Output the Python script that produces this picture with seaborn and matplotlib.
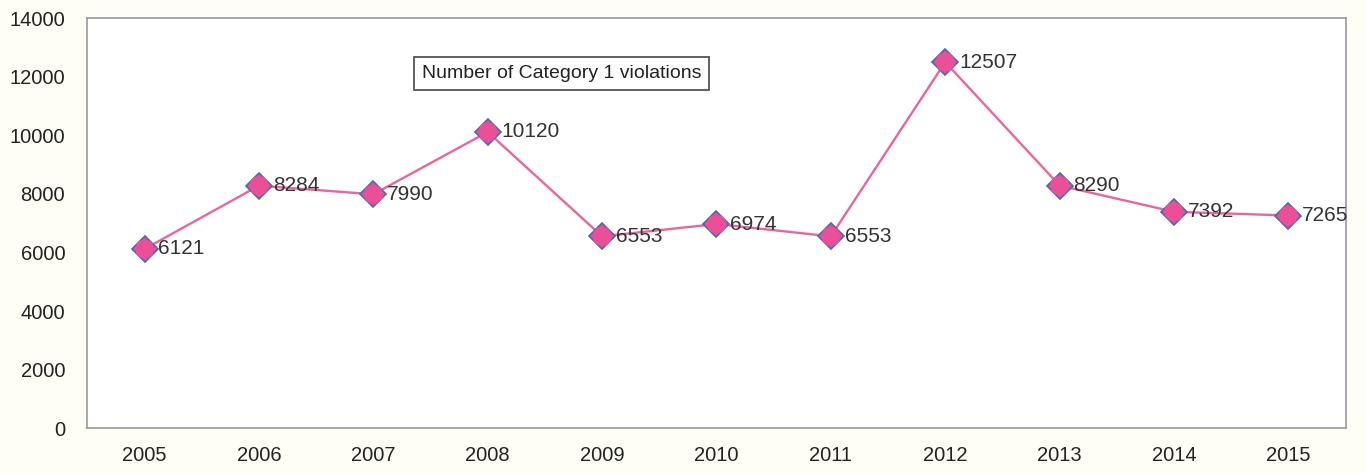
import matplotlib
matplotlib.use("Agg")
import pandas as pd
import matplotlib.pyplot as plt
import seaborn as sns

# Data
years = ["2005", "2006", "2007", "2008", "2009", "2010",
         "2011", "2012", "2013", "2014", "2015"]
violations = [6121, 8284, 7990, 10120, 6553, 6974, 6553, 12507, 8290, 7392, 7265]
y_ticks = [0, 2000, 4000, 6000, 8000, 10000, 12000, 14000]

df = pd.DataFrame({"pos": range(len(years)), "year": years, "count": violations})

sns.set_style("white")
plt.rcParams["font.family"] = ["Liberation Sans", "DejaVu Sans"]

fig = plt.figure(figsize=(13.66, 4.73), dpi=100, facecolor="#fefef7")
ax = fig.add_axes([0.064, 0.095, 0.921, 0.866])
ax.set_facecolor("white")

# line with blue-edged diamond markers
sns.lineplot(data=df, x="pos", y="count", ax=ax, color="#e8669e", linewidth=1.7,
             marker="D", markersize=13, markerfacecolor="#ea4f97",
             markeredgecolor="#4a6aa8", markeredgewidth=1.2)
# pink round blob over the diamonds, like the original marker
sns.scatterplot(data=df, x="pos", y="count", ax=ax, s=190, color="#ea4f97",
                edgecolor="none", zorder=5)

# Value labels to the right of each point
for _, row in df.iterrows():
    ax.annotate(str(row["count"]), (row["pos"], row["count"]),
                xytext=(10, 0), textcoords="offset points",
                ha="left", va="center", fontsize=15, color="#333333", zorder=6)

ax.set_xlim(-0.5, len(years) - 0.5)
ax.set_ylim(0, 14000)
ax.set_xticks(df["pos"])
ax.set_xticklabels(years)
ax.set_yticks(y_ticks)
ax.tick_params(axis="both", length=0, labelsize=14.5, colors="#222222")
ax.tick_params(axis="x", pad=13)
ax.tick_params(axis="y", pad=16)
ax.set_xlabel("")
ax.set_ylabel("")

for side in ax.spines.values():
    side.set_color("#999999")
    side.set_linewidth(1.2)

ax.text(0.377, 0.866, "Number of Category 1 violations", transform=ax.transAxes,
        ha="center", va="center", fontsize=14, color="#222222",
        bbox=dict(boxstyle="square,pad=0.4", facecolor="white",
                  edgecolor="#555555", linewidth=1.3))

plt.savefig("out.png", dpi=100, facecolor=fig.get_facecolor())
